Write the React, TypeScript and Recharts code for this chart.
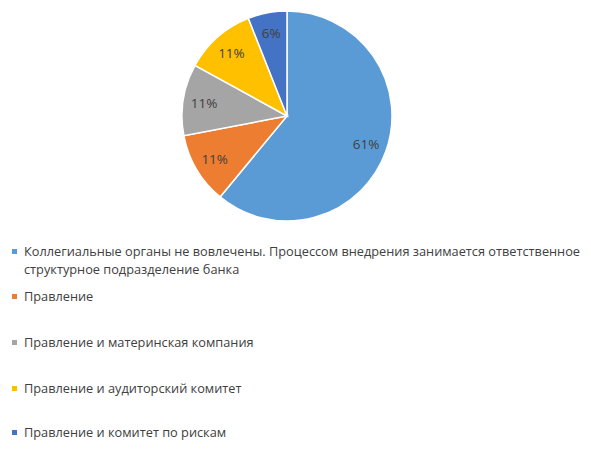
import { PieChart, Pie, Cell, Legend } from 'recharts'

const categories = [
  'Коллегиальные органы не вовлечены. Процессом внедрения занимается ответственное структурное подразделение банка',
  'Правление',
  'Правление и материнская компания',
  'Правление и аудиторский комитет',
  'Правление и комитет по рискам',
]
const shares = [61, 11, 11, 11, 6]
const colors = ['#5B9BD5', '#ED7D31', '#A5A5A5', '#FFC000', '#4472C4']

const data = categories.map((name, i) => ({ name, value: shares[i] }))

const FONT = '"Open Sans", "Liberation Sans", sans-serif'
const RADIAN = Math.PI / 180

interface LabelProps {
  cx: number
  cy: number
  midAngle: number
  outerRadius: number
  value: number
}

function SliceLabel({ cx, cy, midAngle, outerRadius, value }: LabelProps) {
  const r = outerRadius * 0.8
  const x = cx + r * Math.cos(-midAngle * RADIAN)
  const y = cy + r * Math.sin(-midAngle * RADIAN)
  return (
    <text
      x={x}
      y={y}
      fill="#404040"
      fontSize={13.5}
      fontFamily={FONT}
      textAnchor="middle"
      dominantBaseline="central"
    >
      {`${value}%`}
    </text>
  )
}

const rowTops = [2, 47, 93, 139, 183]

function LegendList() {
  return (
    <div style={{ position: 'relative', width: 575, height: 200, fontFamily: FONT }}>
      {data.map((d, i) => (
        <div
          key={d.name}
          style={{
            position: 'absolute',
            top: rowTops[i],
            left: 0,
            width: 575,
            display: 'flex',
            alignItems: 'flex-start',
          }}
        >
          <span
            style={{
              display: 'inline-block',
              width: 5,
              height: 5,
              marginTop: 7,
              marginRight: 7,
              background: colors[i],
              flex: 'none',
            }}
          />
          <span style={{ fontSize: 12.75, lineHeight: '18px', color: '#404040' }}>{d.name}</span>
        </div>
      ))}
    </div>
  )
}

export default function App() {
  return (
    <div style={{ position: 'absolute', left: 0, top: 0, background: '#fff' }}>
      <PieChart width={591} height={450} margin={{ top: 0, right: 0, bottom: 0, left: 0 }}>
        <Pie
          data={data}
          dataKey="value"
          cx={287}
          cy={116}
          outerRadius={105}
          startAngle={90}
          endAngle={-270}
          stroke="#fff"
          strokeWidth={1.5}
          label={SliceLabel}
          labelLine={false}
          isAnimationActive={false}
        >
          {data.map((d, i) => (
            <Cell key={d.name} fill={colors[i]} />
          ))}
        </Pie>
        <Legend
          content={<LegendList />}
          wrapperStyle={{ position: 'absolute', top: 240, left: 12, width: 575 }}
        />
      </PieChart>
    </div>
  )
}
